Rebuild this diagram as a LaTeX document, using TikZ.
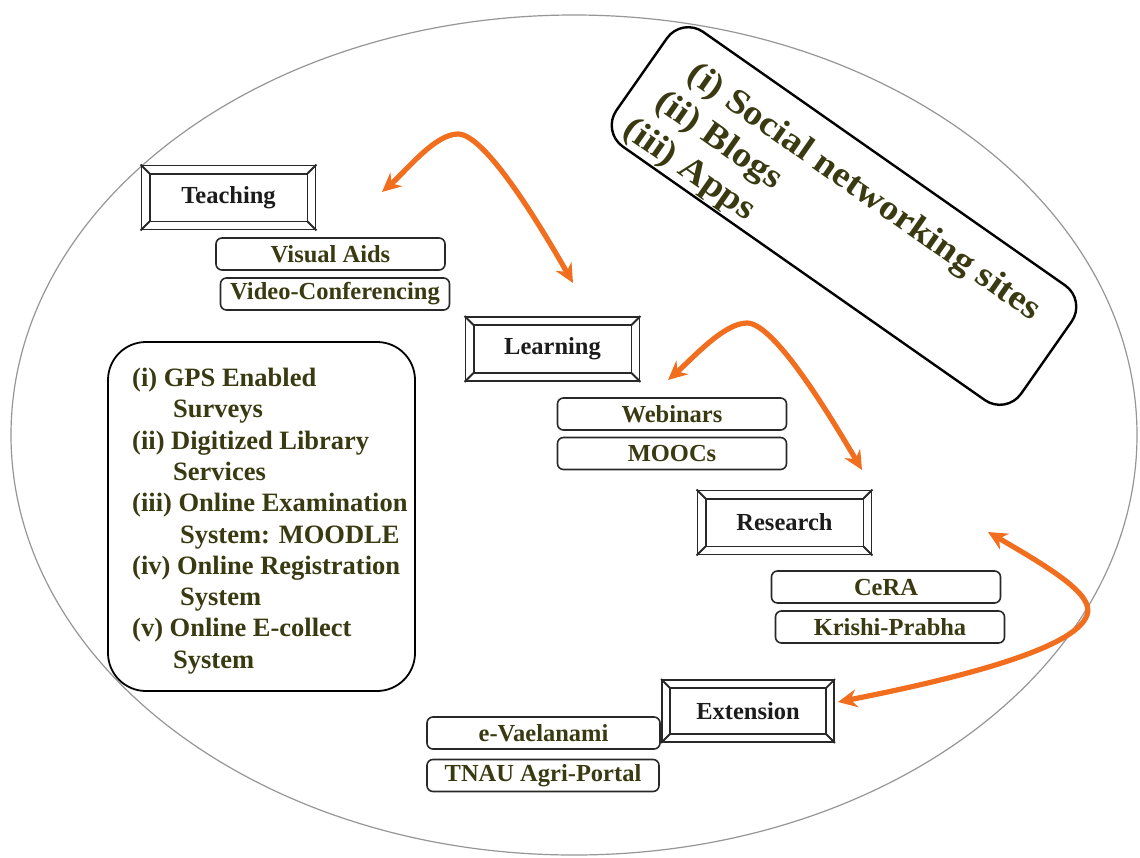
\documentclass[tikz,border=0pt]{standalone}
\usepackage{fontspec}
\setmainfont{Liberation Serif}
\usetikzlibrary{calc,arrows.meta}
\definecolor{txtolive}{RGB}{58,58,18}
\definecolor{labelblack}{RGB}{28,28,28}
\definecolor{linegray}{RGB}{40,40,40}
\definecolor{ellgray}{RGB}{150,150,150}
\definecolor{arrorange}{RGB}{240,110,30}
\newcommand\bevelframe[1]{%
  \draw[bevline] ($(#1.north west)+(9,9)$) rectangle ($(#1.south east)+(-9,-9)$);
  \draw[bevline] (#1.north west) -- ++(9,9) (#1.north east) -- ++(-9,9)
                 (#1.south west) -- ++(9,-9) (#1.south east) -- ++(-9,-9);}
\tikzset{
  bevline/.style={draw=linegray, line width=1.8pt},
  bevelnode/.style={draw=linegray, fill=white, line width=1.8pt, minimum width=174pt,
    minimum height=64pt, inner sep=0pt, text=labelblack,
    font=\fontsize{24.5}{29}\selectfont\bfseries},
  itembox/.style={draw=linegray, fill=white, line width=1.6pt, rounded corners=6pt,
    minimum width=229pt, minimum height=32pt, inner sep=0pt, text=txtolive,
    font=\fontsize{24.5}{29}\selectfont\bfseries},
  gpsbox/.style={draw=black, fill=white, line width=1.8pt, rounded corners=38pt,
    minimum width=307pt, minimum height=349pt},
  gpstext/.style={inner sep=0pt, align=left, text=txtolive,
    font=\fontsize{26.5}{31.3}\selectfont\bfseries},
  snbox/.style={draw=black, fill=white, line width=2.4pt, rounded corners=26pt,
    minimum width=494pt, minimum height=140pt},
  sntext/.style={inner sep=0pt, align=left, text=txtolive,
    font=\fontsize{35}{41}\selectfont\bfseries},
  orarrow/.style={draw=arrorange, line width=5.2pt,
    arrows={Stealth[length=19pt,width=18pt]-Stealth[length=19pt,width=18pt]}},
  ellipseline/.style={draw=ellgray, line width=1.2pt}
}
\begin{document}
\begin{tikzpicture}[x=1pt,y=-1pt]
\useasboundingbox (0,0) rectangle (1140,857);
\fill[white] (0,0) rectangle (1140,857);
\draw[ellipseline] (574,435) ellipse [x radius=563pt, y radius=420pt];

% social networking box
\begin{scope}[shift={(844,216)}, rotate=-35, transform shape]
  \node[snbox] (sn) at (0,0) {};
  \node[sntext, anchor=north west, xscale=1.1] (snt) at (-230,-46)
    {\makebox[1.5em][r]{(i)}\ Social networking sites\\
     \makebox[1.5em][r]{(ii)}\ Blogs\\
     \makebox[1.5em][r]{(iii)}\ Apps};
\end{scope}

% GPS box
\node[gpsbox] (gps) at (261.5,516.5) {};
\node[gpstext, anchor=north west] (gpst) at (132,368)
  {(i) GPS Enabled\\\hspace*{41pt}Surveys\\(ii) Digitized Library\\\hspace*{41pt}Services\\(iii) Online Examination\\\hspace*{48pt}System: MOODLE\\(iv) Online Registration\\\hspace*{48pt}System\\(v) Online E-collect\\\hspace*{41pt}System};

% bevel boxes
\node[bevelnode] (teach) at (228.5,197.5) {Teaching};
\node[bevelnode] (learn) at (552.5,349) {Learning};
\node[bevelnode] (research) at (784.5,522.5) {Research};
\node[bevelnode, minimum width=172pt, minimum height=62pt] (ext) at (748,711) {Extension};
\bevelframe{teach}
\bevelframe{learn}
\bevelframe{research}
\bevelframe{ext}

% item boxes
\node[itembox] (va) at (330.5,254) {Visual Aids};
\node[itembox] (vc) at (335,294) {Video-Conferencing};
\node[itembox] (web) at (672,414) {Webinars};
\node[itembox] (mooc) at (672,453.5) {MOOCs};
\node[itembox] (cera) at (886,587) {CeRA};
\node[itembox] (kp) at (890,627) {Krishi-Prabha};
\node[itembox, minimum width=233pt] (ev) at (543.5,733) {e-Vaelanami};
\node[itembox, minimum width=232pt] (tnau) at (543,775.5) {TNAU Agri-Portal};

% arrows
\coordinate (a1s) at (382,192);
\coordinate (a1m) at (458,134);
\coordinate (a1e) at (573,283);
\coordinate (a2s) at (668,380);
\coordinate (a2m) at (747,323);
\coordinate (a2e) at (862,470);
\coordinate (a3s) at (988,532);
\coordinate (a3m) at (1087,615);
\coordinate (a3e) at (838,702);
\draw[orarrow] (a1s) .. controls (407,170) and (435,134) .. (a1m)
  .. controls (485,134) and (540,225) .. (a1e);
\draw[orarrow] (a2s) .. controls (693,358) and (724,323) .. (a2m)
  .. controls (774,323) and (829,414) .. (a2e);
\draw[orarrow] (a3s) .. controls (1050,568) and (1095,595) .. (a3m)
  .. controls (1075,650) and (950,680) .. (a3e);
\end{tikzpicture}
\end{document}
